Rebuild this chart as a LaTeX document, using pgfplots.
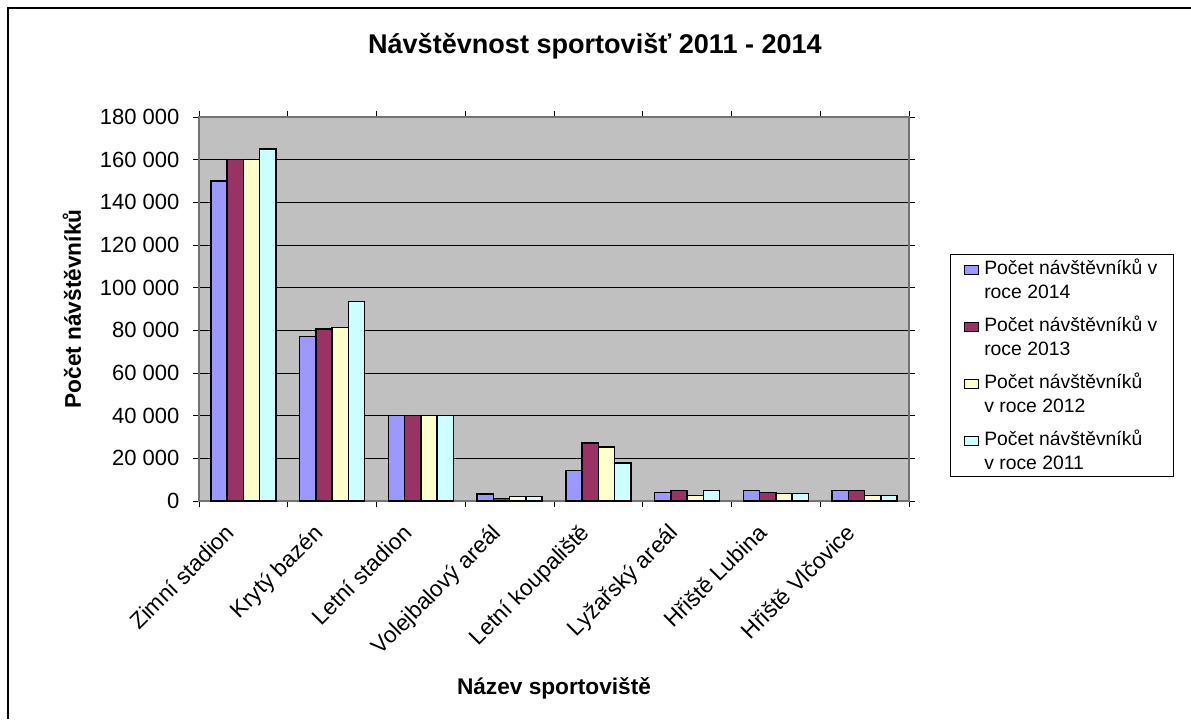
\documentclass[border=0pt]{standalone}
\usepackage{pgfplots}
\pgfplotsset{compat=1.18}
\usepackage{pgfplotstable}
\usepackage{fontspec}
\setmainfont{Liberation Sans}
\definecolor{c14}{HTML}{9999FF}
\definecolor{c13}{HTML}{993366}
\definecolor{c12}{HTML}{FFFFCC}
\definecolor{c11}{HTML}{CCFFFF}
\definecolor{plotbg}{HTML}{C0C0C0}

\pgfplotstableread{
x y14 y13 y12 y11
0 150000 160000 160000 165000
1 77000 80600 81200 93400
2 40000 40000 40000 40000
3 3300 1100 2000 2000
4 14300 27200 25300 17800
5 3900 4800 2500 4800
6 4800 4100 3400 3400
7 4800 4800 2500 2500
}\data

\begin{document}
\begin{tikzpicture}
\path[use as bounding box] (0,0) rectangle (893.25pt,539.25pt);
\draw[line width=1.5pt] (6pt,0pt) -- (6pt,533.25pt) -- (893.25pt,533.25pt);
\begin{axis}[
  at={(149.25pt,163.5pt)}, anchor=south west,
  scale only axis, width=532.5pt, height=288pt,
  xmin=-0.5, xmax=7.5, ymin=0, ymax=180000,
  scaled y ticks=false,
  ybar=0pt, bar width=12.2pt,
  axis background/.style={fill=plotbg},
  axis line style={draw=black!55, line width=0.9pt},
  ytick={0,20000,40000,60000,80000,100000,120000,140000,160000,180000},
  yticklabels={0,20 000,40 000,60 000,80 000,100 000,120 000,140 000,160 000,180 000},
  ymajorgrids, grid style={black, line width=0.75pt},
  xtick={0,1,2,3,4,5,6,7},
  xticklabels={Zimní stadion,Krytý bazén,Letní stadion,Volejbalový areál,Letní koupaliště,Lyžařský areál,Hřiště Lubina,Hřiště Vlčovice},
  major x tick style={draw=none},
  minor xtick={-0.5,0.5,1.5,2.5,3.5,4.5,5.5,6.5,7.5},
  tick align=outside, major tick length=4.5pt, minor tick length=4.5pt,
  tick style={black, line width=0.75pt},
  ticklabel style={font=\fontsize{16.5}{19}\selectfont},
  xticklabel style={font=\fontsize{17}{20}\selectfont, xshift=-14.6pt, yshift=-10pt, rotate=45, anchor=north east, inner sep=1pt},
  yticklabel style={inner sep=2pt, xshift=-8pt},
  ylabel={Počet návštěvníků},
  every axis y label/.append style={at={(axis description cs:-0.1789,0.5)}, anchor=center, font=\bfseries\fontsize{17}{20}\selectfont},
  xlabel={Název sportoviště},
  every axis x label/.append style={at={(axis description cs:0.5,-0.487)}, anchor=center, font=\bfseries\fontsize{17}{20}\selectfont},
  title={Návštěvnost sportovišť 2011 - 2014},
  title style={at={(axis description cs:0.5577,1.163)}, anchor=center, font=\bfseries\fontsize{20.3}{24}\selectfont},
  legend style={at={(axis description cs:1.0577,0.6432)}, anchor=north west,
    draw=black, line width=0.75pt, fill=white,
    font=\fontsize{14.5}{17.6}\selectfont,
    cells={align=left, anchor=west}, row sep=8pt, inner xsep=10pt, inner ysep=1.5pt},
  legend image code/.code={\draw[#1, draw=black, line width=0.75pt] (0pt,4pt) rectangle (10.5pt,11pt); \path (12.5pt,7pt);},
  every axis plot/.append style={draw=black, line width=1pt},
]
\addplot[fill=c14] table[x=x,y=y14]{\data};
\addlegendentry{Počet návštěvníků v\\roce 2014}
\addplot[fill=c13] table[x=x,y=y13]{\data};
\addlegendentry{Počet návštěvníků v\\roce 2013}
\addplot[fill=c12] table[x=x,y=y12]{\data};
\addlegendentry{Počet návštěvníků\\v roce 2012}
\addplot[fill=c11] table[x=x,y=y11]{\data};
\addlegendentry{Počet návštěvníků\\v roce 2011}
\end{axis}
\end{tikzpicture}
\end{document}
